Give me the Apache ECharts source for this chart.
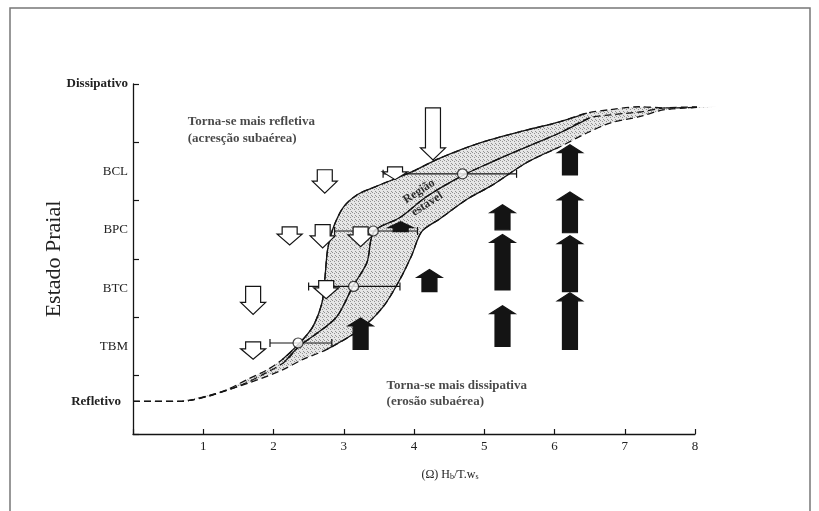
<!DOCTYPE html>
<html>
<head>
<meta charset="utf-8">
<script src="https://cdn.jsdelivr.net/npm/echarts@6/dist/echarts.min.js"></script>
<style>
  html, body { margin: 0; padding: 0; background: #fff; }
  #chart { width: 819px; height: 511px; }
</style>
</head>
<body>
<div id="chart"></div>
<script>
// Axis tick labels
const xTicks = [1, 2, 3, 4, 5, 6, 7, 8];
const stateValues = [0.5, 1.5, 2.5, 3.5, 4.5, 6];
const stateNames = ['Refletivo', 'TBM', 'BTC', 'BPC', 'BCL', 'Dissipativo'];

// Boundaries of the stable region and its central curve, [Ω, state]
const upperBound = [
  [0, 0.56], [0.67, 0.56], [1.05, 0.64], [1.34, 0.76], [1.62, 0.93], [1.91, 1.10],
  [2.13, 1.28], [2.38, 1.57], [2.56, 1.84], [2.69, 2.25], [2.73, 2.65], [2.77, 3.16],
  [2.84, 3.50], [2.99, 3.88], [3.19, 4.10], [3.41, 4.22], [3.94, 4.48], [4.37, 4.73],
  [4.94, 4.99], [5.60, 5.21], [6.07, 5.35], [6.46, 5.50], [6.79, 5.56], [7.21, 5.61],
  [7.57, 5.59], [8.31, 5.61]
];
const midLine = [
  [0, 0.56], [0.67, 0.56], [1.10, 0.66], [1.52, 0.83], [1.88, 1.04], [2.16, 1.24],
  [2.38, 1.52], [2.59, 1.70], [2.90, 2.01], [3.13, 2.53], [3.33, 2.94], [3.43, 3.47],
  [3.80, 3.71], [4.18, 4.07], [4.69, 4.43], [5.12, 4.67], [5.60, 4.92], [6.07, 5.16],
  [6.50, 5.42], [6.79, 5.47], [7.21, 5.52], [7.57, 5.59], [8.31, 5.61]
];
const lowerBound = [
  [0, 0.56], [0.67, 0.56], [1.17, 0.69], [1.66, 0.88], [2.13, 1.10], [2.42, 1.28],
  [2.76, 1.45], [3.23, 1.79], [3.56, 2.18], [3.80, 2.65], [3.97, 3.07], [4.11, 3.47],
  [4.37, 3.69], [4.75, 4.02], [5.12, 4.27], [5.60, 4.65], [6.07, 4.92], [6.46, 5.16],
  [6.79, 5.33], [7.21, 5.44], [7.57, 5.56], [8.31, 5.61]
];

// Mean Ω per beach state and its observed range
const stateMean  = [2.35, 3.14, 3.42, 4.69];
const stateLevel = [1.56, 2.53, 3.48, 4.46];
const rangeLow   = [1.95, 2.50, 2.87, 3.56];
const rangeHigh  = [2.83, 3.80, 4.05, 5.46];

// Accretion arrows (pointing down): [Ω, state at tail, state at tip]
const accretionArrows = [
  [4.27, 5.59, 4.70], [3.73, 4.58, 4.36], [2.73, 4.53, 4.13],
  [2.23, 3.55, 3.24], [2.70, 3.59, 3.19], [3.24, 3.55, 3.21],
  [1.71, 2.53, 2.05], [2.75, 2.63, 2.32], [1.71, 1.58, 1.28]
];
// Erosion arrows (pointing up): [Ω, state at tail, state at tip]
const erosionArrows = [
  [3.81, 3.47, 3.64], [4.22, 2.44, 2.82], [3.24, 1.45, 1.99],
  [5.26, 3.50, 3.93], [5.26, 2.47, 3.42], [5.26, 1.50, 2.20],
  [6.22, 4.44, 4.96], [6.22, 3.45, 4.15], [6.22, 2.44, 3.40], [6.22, 1.45, 2.42]
];

const SERIF = '"Liberation Serif", "DejaVu Serif", serif';
const INK = '#141414';

// Stippled texture for the stable region
const tex = document.createElement('canvas');
tex.width = tex.height = 4;
const tg = tex.getContext('2d');
tg.fillStyle = '#e6e6e6';
tg.fillRect(0, 0, 4, 4);
tg.fillStyle = '#929292';
[[0, 0], [2, 1], [3, 3]].forEach(([a, b]) => tg.fillRect(a, b, 1, 1));

function arrowPoints(p0, p1, shaft, head, headLen) {
  const dir = p1[1] > p0[1] ? 1 : -1;
  const len = Math.abs(p1[1] - p0[1]);
  const hl = Math.min(headLen, len * 0.6);
  const x = p0[0];
  const yb = p1[1] - dir * hl;
  return [
    [x - shaft / 2, p0[1]], [x + shaft / 2, p0[1]], [x + shaft / 2, yb],
    [x + head / 2, yb], [x, p1[1]], [x - head / 2, yb], [x - shaft / 2, yb]
  ];
}

function arrowSeries(data, fill, headLen) {
  return {
    type: 'custom',
    data: data,
    z: 7,
    silent: true,
    renderItem: function (params, api) {
      const p0 = api.coord([api.value(0), api.value(1)]);
      const p1 = api.coord([api.value(0), api.value(2)]);
      return {
        type: 'polygon',
        shape: { points: arrowPoints(p0, p1, 15, 25, headLen) },
        style: { fill: fill, stroke: INK, lineWidth: 1.2 }
      };
    }
  };
}

function curveSeries(points, lo, hi) {
  return [
    {
      type: 'line', data: points, showSymbol: false, smooth: 0.3, clip: false,
      silent: true, z: 3,
      lineStyle: { color: INK, width: 1.3, type: [7, 4] }
    },
    {
      type: 'line', data: points.filter(p => p[0] >= lo && p[0] <= hi),
      showSymbol: false, smooth: 0.3, clip: false, silent: true, z: 4,
      lineStyle: { color: INK, width: 1.3 }
    }
  ];
}

const chart = echarts.init(document.getElementById('chart'), null, { renderer: 'canvas' });

const option = {
  backgroundColor: '#fff',
  animation: false,
  graphic: [{
    type: 'rect',
    shape: { x: 10, y: 8, width: 800, height: 520 },
    style: { fill: 'none', stroke: '#777', lineWidth: 1.5 },
    silent: true
  }],
  grid: { left: 133, right: 124, top: 84, bottom: 77 },
  xAxis: {
    type: 'value', min: 0, max: 8, interval: 1,
    axisLine: { lineStyle: { color: INK, width: 1.3 } },
    axisTick: { inside: true, length: 5, lineStyle: { color: INK, width: 1.2 } },
    splitLine: { show: false },
    axisLabel: {
      formatter: v => (xTicks.indexOf(v) >= 0 ? String(v) : ''),
      fontFamily: SERIF, fontSize: 13, color: '#222', margin: 6
    },
    name: '(Ω) H{sub|b}/T.w{sub|s}',
    nameLocation: 'middle',
    nameGap: 47,
    nameTextStyle: {
      fontFamily: SERIF, fontSize: 12, color: '#222', padding: [0, 0, 0, 72],
      verticalAlign: 'bottom',
      rich: { sub: { fontFamily: SERIF, fontSize: 8, color: '#222', verticalAlign: 'bottom' } }
    }
  },
  yAxis: [
    {
      type: 'value', min: 0, max: 6, interval: 1,
      axisLine: { lineStyle: { color: INK, width: 1.3 } },
      axisTick: { inside: true, length: 6, lineStyle: { color: INK, width: 1.2 } },
      axisLabel: { show: false },
      splitLine: { show: false },
      name: 'Estado Praial',
      nameLocation: 'middle',
      nameGap: 68,
      nameTextStyle: { fontFamily: SERIF, fontSize: 22, color: '#222' }
    },
    {
      type: 'value', min: 0, max: 6, interval: 0.5, position: 'left',
      axisLine: { show: false }, axisTick: { show: false }, splitLine: { show: false },
      axisLabel: {
        margin: 5,
        fontFamily: SERIF, fontSize: 13, color: '#222',
        formatter: function (v) {
          const i = stateValues.indexOf(v);
          if (i < 0) return '';
          const name = stateNames[i];
          if (i === 0) return '{refl|' + name + '}';
          if (i === stateNames.length - 1) return '{bold|' + name + '}';
          return name;
        },
        rich: {
          bold: { fontFamily: SERIF, fontSize: 13, fontWeight: 'bold', color: '#222' },
          refl: { fontFamily: SERIF, fontSize: 13, fontWeight: 'bold', color: '#222', padding: [0, 7, 7, 0] }
        }
      }
    }
  ],
  series: [
    // Stable region fill
    {
      type: 'custom',
      data: [[0, 0]],
      z: 1,
      silent: true,
      clip: false,
      renderItem: function (params, api) {
        const pts = upperBound.map(p => api.coord(p))
          .concat(lowerBound.slice().reverse().map(p => api.coord(p)));
        return {
          type: 'polygon',
          shape: { points: pts },
          style: { fill: { image: tex, repeat: 'repeat' }, stroke: null }
        };
      }
    },
    ...curveSeries(upperBound, 2.13, 6.46),
    ...curveSeries(midLine, 2.16, 6.50),
    ...curveSeries(lowerBound, 2.76, 6.07),
    // Range bars for each beach state
    {
      type: 'custom',
      data: stateMean.map((m, i) => [rangeLow[i], rangeHigh[i], stateLevel[i]]),
      z: 5,
      silent: true,
      renderItem: function (params, api) {
        const a = api.coord([api.value(0), api.value(2)]);
        const b = api.coord([api.value(1), api.value(2)]);
        const st = { stroke: INK, lineWidth: 1.2 };
        return {
          type: 'group',
          children: [
            { type: 'line', shape: { x1: a[0], y1: a[1], x2: b[0], y2: b[1] }, style: st },
            { type: 'line', shape: { x1: a[0], y1: a[1] - 4, x2: a[0], y2: a[1] + 4 }, style: st },
            { type: 'line', shape: { x1: b[0], y1: b[1] - 4, x2: b[0], y2: b[1] + 4 }, style: st }
          ]
        };
      }
    },
    arrowSeries(accretionArrows, '#fff', 12),
    arrowSeries(erosionArrows, INK, 8),
    // Mean values
    {
      type: 'scatter',
      data: stateMean.map((m, i) => [m, stateLevel[i]]),
      symbol: 'circle', symbolSize: 10, z: 8, silent: true,
      itemStyle: { color: '#fff', borderColor: INK, borderWidth: 1.2 }
    },
    // Annotations
    {
      type: 'scatter',
      symbolSize: 0, z: 9, silent: true,
      data: [
        {
          value: [0.78, 5.21], name: 'Torna-se mais refletiva\n(acresção subaérea)',
          label: { position: 'right', distance: 0, align: 'left', lineHeight: 17 }
        },
        {
          value: [3.61, 0.70], name: 'Torna-se mais dissipativa\n(erosão subaérea)',
          label: { position: 'right', distance: 0, align: 'left', lineHeight: 16 }
        },
        {
          value: [4.13, 4.05], name: 'Região\nestável',
          label: { position: 'inside', rotate: 33, lineHeight: 15, fontSize: 12, align: 'center', color: '#000' }
        }
      ],
      label: {
        show: true, formatter: '{b}',
        fontFamily: SERIF, fontSize: 13, fontWeight: 'bold', color: '#1a1a1a'
      }
    }
  ]
};

chart.setOption(option);
</script>
</body>
</html>
